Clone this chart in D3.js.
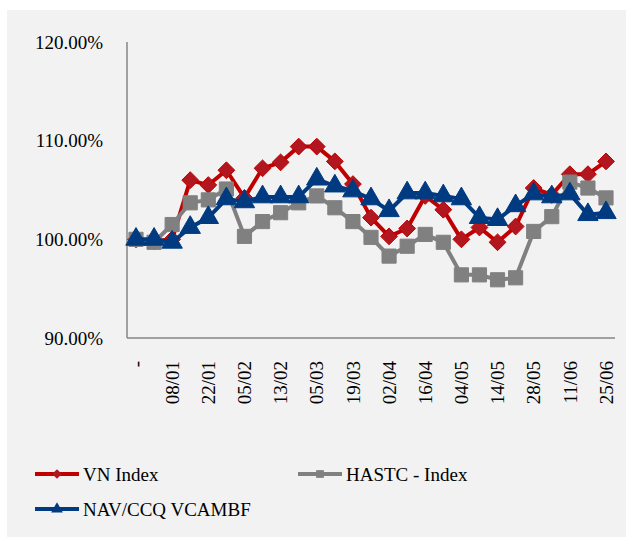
<!DOCTYPE html>
<html>
<head>
<meta charset="utf-8">
<script src="https://cdn.jsdelivr.net/npm/d3@7"></script>
<style>
  body { margin: 0; background: #fff; }
  svg text { font-family: "Palatino Linotype", "Book Antiqua", "Liberation Serif", "DejaVu Serif", serif; fill: #000; }
</style>
</head>
<body>
<script>
var categories = ['-', 'c1', '08/01', 'c3', '22/01', 'c5', '05/02', 'c7', '13/02', 'c9', '05/03', 'c11',
                  '19/03', 'c13', '02/04', 'c15', '16/04', 'c17', '04/05', 'c19', '14/05', 'c21',
                  '28/05', 'c23', '11/06', 'c25', '25/06'];
var tickLabels = ['-', '08/01', '22/01', '05/02', '13/02', '05/03', '19/03', '02/04', '16/04',
                  '04/05', '14/05', '28/05', '11/06', '25/06'];
var vnIndex = [100.0, 99.8, 100.0, 106.0, 105.5, 107.0, 104.2, 107.2, 107.8, 109.4, 109.4, 107.9,
               105.6, 102.2, 100.3, 101.1, 104.4, 103.0, 100.0, 101.2, 99.7, 101.3, 105.2, 104.5,
               106.6, 106.6, 107.9];
var hastc = [100.0, 99.7, 101.5, 103.7, 104.0, 105.1, 100.3, 101.8, 102.7, 103.7, 104.4, 103.2,
             101.8, 100.2, 98.3, 99.3, 100.5, 99.7, 96.4, 96.4, 95.9, 96.1, 100.8, 102.3,
             105.8, 105.2, 104.2];
var nav = [100.0, 100.0, 99.7, 101.2, 102.2, 104.1, 103.8, 104.3, 104.3, 104.3, 106.1, 105.4,
           104.9, 104.1, 102.9, 104.7, 104.7, 104.4, 104.1, 102.2, 102.0, 103.4, 104.6, 104.3,
           104.6, 102.5, 102.7];
var seriesNames = ['VN Index', 'HASTC - Index', 'NAV/CCQ VCAMBF'];
var yTicks = [90, 100, 110, 120];

var width = 626, height = 537;
var svg = d3.select('body').append('svg').attr('width', width).attr('height', height);

svg.append('rect').attr('x', 7).attr('y', 10).attr('width', width - 7).attr('height', height - 10)
    .attr('fill', '#f2f2f2');

var x = d3.scalePoint().domain(categories).range([136, 606]);
var y = d3.scaleLinear().domain([90, 120]).range([338, 42]);

// axes
svg.append('line').attr('x1', 127).attr('x2', 127).attr('y1', y(120)).attr('y2', y(90))
    .attr('stroke', '#868686').attr('stroke-width', 1.5);
svg.append('line').attr('x1', 127).attr('x2', 615).attr('y1', y(90)).attr('y2', y(90))
    .attr('stroke', '#868686').attr('stroke-width', 1.5);

svg.selectAll('text.ylab').data(yTicks).enter().append('text')
    .attr('class', 'ylab')
    .attr('x', 103).attr('y', function(d){ return y(d); })
    .attr('dy', '0.35em').attr('text-anchor', 'end')
    .style('font-size', '19px')
    .text(function(d){ return d.toFixed(2) + '%'; });

svg.selectAll('text.xlab').data(tickLabels).enter().append('text')
    .attr('class', 'xlab')
    .attr('transform', function(d, i){ return 'translate(' + x(categories[i * 2]) + ',' + 361 + ') rotate(-90)'; })
    .attr('dy', '0.35em').attr('text-anchor', 'end')
    .style('font-size', '19px')
    .text(function(d){ return d; });

var line = d3.line()
    .x(function(d, i){ return x(categories[i]); })
    .y(function(d){ return y(d); });

function drawSeries(data, color, fill, shape, size) {
    svg.append('path').attr('d', line(data)).attr('fill', 'none')
        .attr('stroke', color).attr('stroke-width', 4).attr('stroke-linejoin', 'round');
    svg.append('g').selectAll('path').data(data).enter().append('path')
        .attr('d', d3.symbol().type(shape).size(size))
        .attr('transform', function(d, i){ return 'translate(' + x(categories[i]) + ',' + y(d) + ')'; })
        .attr('fill', fill).attr('stroke', color).attr('stroke-width', 1);
}

drawSeries(vnIndex, '#c00000', '#b2161f', d3.symbolDiamond2, 180);
drawSeries(hastc, '#808080', '#808080', d3.symbolSquare, 200);
drawSeries(nav, '#003a80', '#003a80', d3.symbolTriangle, 180);

// legend
var legend = [
    {name: seriesNames[0], color: '#c00000', fill: '#b2161f', shape: d3.symbolDiamond2, size: 60, lx: 35, ly: 474},
    {name: seriesNames[1], color: '#808080', fill: '#808080', shape: d3.symbolSquare, size: 60, lx: 298, ly: 474},
    {name: seriesNames[2], color: '#003a80', fill: '#003a80', shape: d3.symbolTriangle, size: 60, lx: 35, ly: 509}
];
var lg = svg.selectAll('g.leg').data(legend).enter().append('g').attr('class', 'leg')
    .attr('transform', function(d){ return 'translate(' + d.lx + ',' + d.ly + ')'; });
lg.append('line').attr('x1', 0).attr('x2', 44).attr('y1', 0).attr('y2', 0)
    .attr('stroke', function(d){ return d.color; }).attr('stroke-width', 4);
lg.append('path').attr('d', function(d){ return d3.symbol().type(d.shape).size(d.size)(); })
    .attr('transform', 'translate(22,0)')
    .attr('fill', function(d){ return d.fill; });
lg.append('text').attr('x', 48).attr('y', 0).attr('dy', '0.35em')
    .style('font-size', '19px')
    .text(function(d){ return d.name; });
</script>
</body>
</html>
